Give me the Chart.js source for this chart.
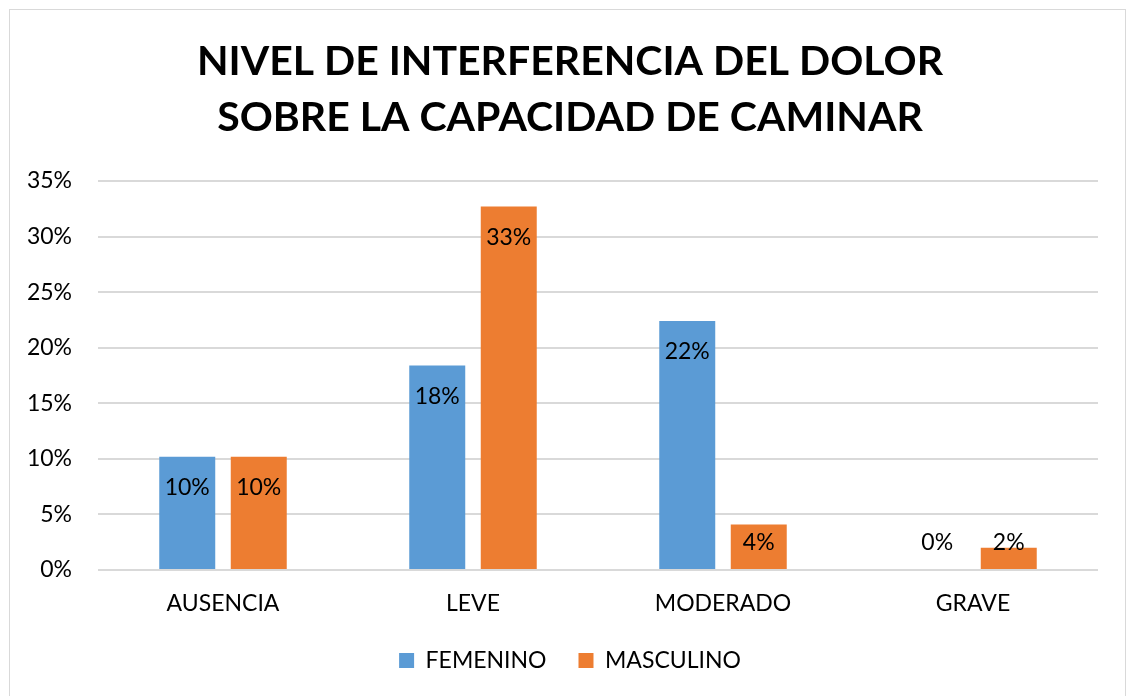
<!DOCTYPE html>
<html>
<head>
<meta charset="utf-8">
<script src="https://cdn.jsdelivr.net/npm/chart.js@4/dist/chart.umd.min.js"></script>
<style>
	body { margin: 0; background: #fff; }
	#wrap { width: 1128px; height: 696px; }
</style>
</head>
<body>
<div id="wrap"><canvas id="canvas_main" width="1128" height="696"></canvas></div>
<script>
//chart data------------------
const categories = ['AUSENCIA', 'LEVE', 'MODERADO', 'GRAVE'];
const seriesNames = ['FEMENINO', 'MASCULINO'];
const femenino = [0.102, 0.184, 0.224, 0];
const masculino = [0.102, 0.327, 0.041, 0.02];
const yTicks = [0, 0.05, 0.10, 0.15, 0.20, 0.25, 0.30, 0.35];

const fontFamily = 'Lato, "Open Sans", sans-serif';

//white background + outer border
const framePlugin = {
	id: 'frame',
	beforeDraw: function (chart) {
		var ctx = chart.ctx;
		ctx.save();
		ctx.fillStyle = '#ffffff';
		ctx.fillRect(0, 0, chart.width, chart.height);
		ctx.strokeStyle = '#D9D9D9';
		ctx.lineWidth = 1;
		ctx.strokeRect(9.5, 9.5, 1116, 700);
		ctx.restore();
	}
};

//value labels, inside end of each bar
const valueLabelPlugin = {
	id: 'valueLabels',
	afterDatasetsDraw: function (chart) {
		var ctx = chart.ctx;
		var bottom = chart.chartArea.bottom;
		ctx.save();
		ctx.font = '23px ' + fontFamily;
		ctx.fillStyle = '#000000';
		ctx.textAlign = 'center';
		ctx.textBaseline = 'middle';
		chart.data.datasets.forEach(function (ds, i) {
			var meta = chart.getDatasetMeta(i);
			meta.data.forEach(function (bar, j) {
				var y = Math.min(bar.y + 31, bottom - 27);
				ctx.fillText(Math.round(ds.data[j] * 100) + '%', bar.x, y);
			});
		});
		ctx.restore();
	}
};

const data = {
	labels: categories,
	datasets: [{
		label: seriesNames[0],
		backgroundColor: '#5B9BD5',
		data: femenino,
		categoryPercentage: 0.572,
		barPercentage: 0.783
	},
	{
		label: seriesNames[1],
		backgroundColor: '#ED7D31',
		data: masculino,
		categoryPercentage: 0.572,
		barPercentage: 0.783
	}]
};

const config = {
	type: 'bar',
	data: data,
	plugins: [framePlugin, valueLabelPlugin],
	options: {
		responsive: false,
		animation: false,
		layout: {
			padding: { left: 12, right: 0, top: 0, bottom: 14 }
		},
		scales: {
			x: {
				afterFit: function (scale) {
					scale.height = 47;
				},
				grid: { display: false, drawTicks: false },
				border: { display: false },
				ticks: {
					color: '#000000',
					padding: 20,
					font: { size: 23, family: fontFamily }
				}
			},
			y: {
				min: 0,
				max: 0.35,
				afterBuildTicks: function (scale) {
					scale.ticks = yTicks.map(function (v) { return { value: v }; });
				},
				afterFit: function (scale) {
					scale.width = 86;
				},
				grid: { color: '#D9D9D9', lineWidth: 2, drawTicks: false },
				border: { display: false },
				ticks: {
					color: '#000000',
					padding: 26,
					font: { size: 23, family: fontFamily },
					callback: function (v) { return Math.round(v * 100) + '%'; }
				}
			},
			//empty right axis, only keeps the plot clear of the right edge
			yRight: {
				position: 'right',
				display: true,
				afterFit: function (scale) {
					scale.width = 30;
				},
				grid: { display: false, drawTicks: false },
				border: { display: false },
				ticks: { display: false }
			}
		},
		plugins: {
			title: {
				display: true,
				text: ['NIVEL DE INTERFERENCIA DEL DOLOR', 'SOBRE LA CAPACIDAD DE CAMINAR'],
				color: '#000000',
				padding: { top: 34, bottom: 35 },
				font: { size: 41, weight: 'bold', family: fontFamily, lineHeight: 1.366 }
			},
			legend: {
				display: true,
				position: 'bottom',
				labels: {
					color: '#000000',
					boxWidth: 15,
					boxHeight: 15,
					padding: 32,
					font: { size: 23, family: fontFamily }
				}
			},
			tooltip: { enabled: false }
		}
	}
};

window.onload = function () {
	new Chart(document.getElementById('canvas_main'), config);
};
</script>
</body>
</html>
